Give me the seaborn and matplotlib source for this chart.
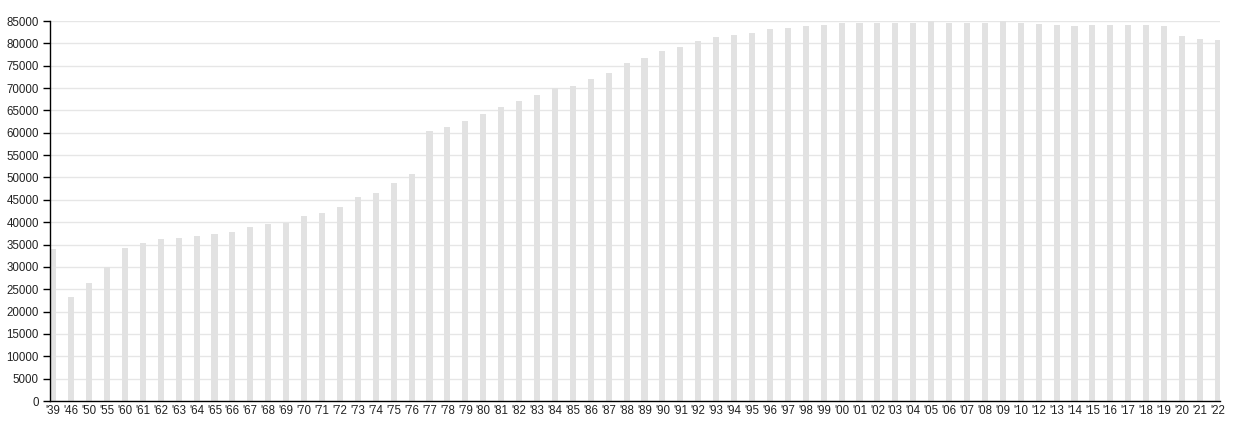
import matplotlib
matplotlib.use("Agg")
import matplotlib.pyplot as plt
import seaborn as sns
import numpy as np

years = ["'39", "'46", "'50", "'55", "'60", "'61", "'62", "'63", "'64", "'65", "'66", "'67", "'68", "'69",
         "'70", "'71", "'72", "'73", "'74", "'75", "'76", "'77", "'78", "'79", "'80", "'81", "'82", "'83",
         "'84", "'85", "'86", "'87", "'88", "'89", "'90", "'91", "'92", "'93", "'94", "'95", "'96", "'97",
         "'98", "'99", "'00", "'01", "'02", "'03", "'04", "'05", "'06", "'07", "'08", "'09", "'10", "'12",
         "'13", "'14", "'15", "'16", "'17", "'18", "'19", "'20", "'21", "'22"]
values = [34000, 23200, 26400, 30000, 34300, 35300, 36200, 36500, 36800, 37400, 37900, 38900, 39500, 39900,
          41400, 42000, 43400, 45600, 46600, 48800, 50700, 60500, 61200, 62600, 64300, 65700, 67200, 68400,
          70100, 70500, 72000, 73400, 75600, 76800, 78300, 79200, 80600, 81500, 81900, 82400, 83100, 83500,
          83900, 84200, 84600, 84600, 84600, 84600, 84600, 84900, 84600, 84600, 84500, 84900, 84600, 84300,
          84200, 83900, 84150, 84100, 84150, 84150, 83800, 81600, 80900, 80700]
yticks = list(range(0, 85001, 5000))

sns.set_style("white")
plt.rcParams['font.family'] = ['Liberation Sans', 'DejaVu Sans']

fig = plt.figure(figsize=(12.6, 4.21), dpi=100)
ax = fig.add_axes([50/1260, 20/421, 1170/1260, 380/421])

sns.barplot(x=years, y=values, color="#e2e2e2", saturation=1, width=0.34, ax=ax, linewidth=0)

ax.set_xlim(-0.18, len(years) - 1 + 0.12)
ax.set_ylim(0, 85000)
ax.set_yticks(yticks)
ax.set_yticklabels([str(v) for v in yticks], fontsize=8.3, color="#222222")
ax.tick_params(axis='y', length=5, width=1, color="#000000", pad=3, direction='out', left=True)
ax.tick_params(axis='x', length=0, pad=3, labelsize=8.3, labelcolor="#222222")
ax.yaxis.grid(True, color="#e6e6e6", linewidth=1)
ax.xaxis.grid(False)
ax.set_axisbelow(True)
for s in ['top', 'right']:
    ax.spines[s].set_visible(False)
for s in ['left', 'bottom']:
    ax.spines[s].set_color("#000000")
    ax.spines[s].set_linewidth(1)
ax.set_xlabel("")
ax.set_ylabel("")

fig.savefig("out.png", dpi=100)
